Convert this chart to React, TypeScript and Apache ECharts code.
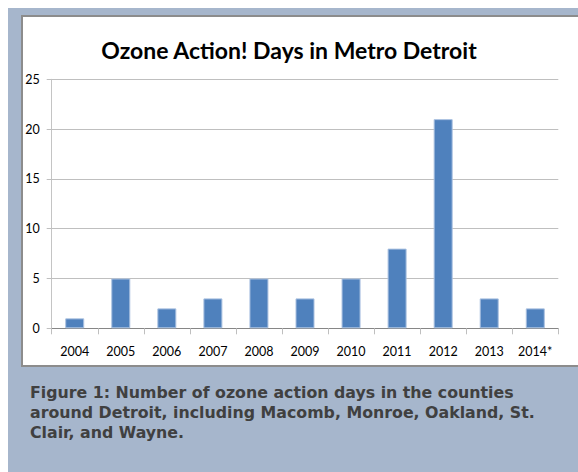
import React, { useEffect, useRef } from "react";
import * as echarts from "echarts";

const categories = ["2004", "2005", "2006", "2007", "2008", "2009", "2010", "2011", "2012", "2013", "2014*"];
const ozoneDays = [1, 5, 2, 3, 5, 3, 5, 8, 21, 3, 2];
const titleText = "Ozone Action! Days in Metro Detroit";
const captionLines = [
  "Figure 1: Number of ozone action days in the counties",
  "around Detroit, including Macomb, Monroe, Oakland, St.",
  "Clair, and Wayne.",
];

export default function App() {
  const ref = useRef<HTMLDivElement>(null);
  useEffect(() => {
    if (!ref.current) return;
    const chart = echarts.init(ref.current, null, { renderer: "svg" });
    chart.setOption({
      animation: false,
      backgroundColor: "#ffffff",
      graphic: [
        {
          type: "rect",
          z: -20,
          shape: { x: 8, y: 8, width: 580, height: 480 },
          style: { fill: "#a6b6cc" },
          silent: true,
        },
        {
          type: "rect",
          z: -10,
          shape: { x: 22, y: 16, width: 580, height: 350 },
          style: { fill: "#ffffff", stroke: "#8c8c8c", lineWidth: 2 },
          silent: true,
        },
        {
          type: "text",
          x: 289,
          y: 49.5,
          style: {
            text: titleText,
            fontFamily: "Lato",
            fontWeight: "bold",
            fontSize: 23,
            fill: "#000000",
            align: "center",
            verticalAlign: "middle",
          },
        },
        {
          type: "text",
          x: 30,
          y: 382,
          style: {
            text: captionLines.join("\n"),
            fontFamily: "DejaVu Sans",
            fontWeight: "bold",
            fontSize: 15.8,
            lineHeight: 20.3,
            fill: "#404040",
            align: "left",
            verticalAlign: "top",
          },
        },
      ],
      grid: { left: 51.7, right: 19.7, top: 79.3, bottom: 143.7, containLabel: false },
      xAxis: {
        type: "category",
        data: categories,
        axisLine: { show: true, lineStyle: { color: "#868686", width: 1 } },
        axisTick: { show: true, length: 6, lineStyle: { color: "#bfbfbf" } },
        axisLabel: { color: "#000000", fontFamily: "Lato", fontSize: 12.5, margin: 17 },
        splitLine: { show: false },
      },
      yAxis: {
        type: "value",
        min: 0,
        max: 25,
        interval: 5,
        axisLine: { show: true, lineStyle: { color: "#c4c4c4", width: 1 } },
        axisTick: { show: true, length: 5, lineStyle: { color: "#bfbfbf" } },
        axisLabel: { color: "#000000", fontFamily: "Lato", fontSize: 12.5, margin: 12 },
        splitLine: { show: true, lineStyle: { color: "#bfbfbf", width: 1.2 } },
      },
      series: [
        {
          type: "bar",
          data: ozoneDays,
          barWidth: 19,
          itemStyle: { color: "#4f81bd", borderColor: "#a9c0e0", borderWidth: 1 },
        },
      ],
    });
    return () => chart.dispose();
  }, []);
  return (
    <div
      ref={ref}
      style={{ position: "fixed", left: 0, top: 0, width: 578, height: 472 }}
    />
  );
}
